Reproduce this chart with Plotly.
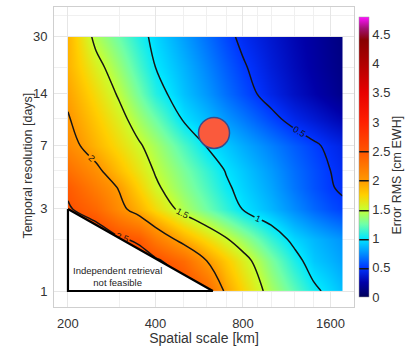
import plotly.graph_objects as go

# ---- data ----
spatial_km = [200, 250, 300, 350, 400, 500, 600, 700, 800, 1000, 1200, 1400, 1600, 1760]
temporal_days = [1, 1.5, 2, 3, 4, 5, 7, 10, 14, 20, 30]
# error RMS [cm EWH], rows follow temporal_days, columns follow spatial_km
error_rms = [
    [3.30, 3.20, 3.10, 3.00, 2.90, 2.60, 2.35, 1.95, 1.73, 1.41, 1.21, 1.04, 0.95, 0.88],  # 1
    [3.10, 2.95, 2.80, 2.65, 2.55, 2.32, 2.00, 1.78, 1.59, 1.29, 1.07, 0.91, 0.85, 0.80],  # 1.5
    [2.90, 2.70, 2.54, 2.45, 2.20, 1.90, 1.69, 1.52, 1.37, 1.12, 0.95, 0.86, 0.80, 0.76],  # 2
    [2.53, 2.35, 2.08, 1.88, 1.69, 1.42, 1.25, 1.11, 0.99, 0.86, 0.74, 0.64, 0.57, 0.53],  # 3
    [2.45, 2.19, 1.98, 1.74, 1.54, 1.33, 1.17, 1.03, 0.94, 0.81, 0.68, 0.58, 0.51, 0.48],  # 4
    [2.30, 2.06, 1.83, 1.64, 1.48, 1.28, 1.12, 0.99, 0.91, 0.78, 0.66, 0.57, 0.50, 0.46],  # 5
    [2.10, 1.87, 1.69, 1.53, 1.40, 1.17, 0.99, 0.91, 0.83, 0.71, 0.61, 0.53, 0.46, 0.42],  # 7
    [2.02, 1.78, 1.58, 1.39, 1.24, 0.98, 0.87, 0.77, 0.69, 0.55, 0.44, 0.37, 0.31, 0.27],  # 10
    [1.95, 1.69, 1.47, 1.26, 1.08, 0.89, 0.77, 0.66, 0.57, 0.43, 0.33, 0.26, 0.20, 0.15],  # 14
    [1.88, 1.58, 1.36, 1.16, 1.00, 0.85, 0.72, 0.61, 0.52, 0.39, 0.30, 0.23, 0.17, 0.13],  # 20
    [1.88, 1.43, 1.24, 1.07, 0.95, 0.79, 0.66, 0.55, 0.46, 0.36, 0.28, 0.22, 0.16, 0.12],  # 30
]
infeasible_x = [200, 200, 630, 200]
infeasible_y = [3, 1, 1, 3]
mission_x = [636]
mission_y = [8.3]
x_ticks = [200, 400, 800, 1600]
y_ticks = [1, 3, 7, 14, 30]
cbar_ticks = [0, 0.5, 1, 1.5, 2, 2.5, 3, 3.5, 4, 4.5]

zmax = 4.8
stops = [
    (0.0, "#00005a"), (0.25, "#0000a8"), (0.5, "#0034ff"), (0.75, "#0090ff"),
    (1.0, "#00e8ff"), (1.25, "#70ffa8"), (1.5, "#c8ff30"), (1.75, "#ffd000"),
    (2.0, "#ff9800"), (2.5, "#ff5400"), (3.0, "#ff2000"), (3.5, "#e80000"),
    (4.0, "#b00000"), (4.4, "#880000"), (4.6, "#a01070"), (4.8, "#ff10ff"),
]
colorscale = [[v / zmax, c] for v, c in stops]

font = "Liberation Sans, Arial, sans-serif"
txt = "#333333"

fig = go.Figure()
fig.add_trace(go.Contour(
    x=spatial_km, y=temporal_days, z=error_rms,
    colorscale=colorscale, zmin=0, zmax=zmax,
    contours=dict(coloring="heatmap", start=0.5, end=2.5, size=0.5, showlabels=True,
                  labelfont=dict(size=9, color="#111111", family=font)),
    line=dict(color="#151515", width=1.5),
    colorbar=dict(
        x=1.017, xanchor="left", y=0.5, yanchor="middle", len=1.0,
        thickness=10, outlinewidth=0.5, outlinecolor="#999999",
        tickvals=cbar_ticks, ticks="", xpad=0,
        tickfont=dict(size=13, color=txt, family=font),
    ),
))
fig.add_trace(go.Scatter(
    x=infeasible_x, y=infeasible_y, mode="lines", fill="toself",
    fillcolor="white", line=dict(color="black", width=2.2),
    hoverinfo="skip", showlegend=False,
))
fig.add_trace(go.Scatter(
    x=mission_x, y=mission_y, mode="markers",
    marker=dict(size=31, color="#fa5a3c", line=dict(color="#3c4a88", width=1.5)),
    showlegend=False,
))
fig.add_annotation(x=2.472, y=0.082, xref="x", yref="y",
                   text="Independent retrieval<br>not feasible", showarrow=False,
                   font=dict(size=9.5, color="#222222", family=font))
fig.add_annotation(x=-0.088, y=0.47, xref="paper", yref="paper", textangle=-90,
                   text="Temporal resolution [days]", showarrow=False,
                   xanchor="center", yanchor="middle",
                   font=dict(size=12.5, color=txt, family=font))
fig.add_annotation(x=1.142, y=0.44, xref="paper", yref="paper", textangle=-90,
                   text="Error RMS [cm EWH]", showarrow=False,
                   xanchor="center", yanchor="middle",
                   font=dict(size=12.5, color=txt, family=font))

minor_x = [300, 500, 600, 700, 900, 1000, 1200, 1400]
minor_y = [2, 4, 5, 6, 10, 20, 40]
fig.update_xaxes(
    type="log", range=[2.253, 3.285], tickvals=x_ticks, ticktext=[str(v) for v in x_ticks],
    showgrid=True, gridcolor="#e6e6e6", gridwidth=1,
    minor=dict(tickvals=minor_x, showgrid=True, gridcolor="#f0f0f0"),
    showline=True, mirror=True, linecolor="#cfcfcf", linewidth=1,
    ticks="", ticklabelstandoff=4, zeroline=False,
    tickfont=dict(size=13, color=txt, family=font),
    title=dict(text="Spatial scale [km]", standoff=2, font=dict(size=14, color=txt, family=font)),
)
fig.update_yaxes(
    type="log", range=[-0.093, 1.651], tickvals=y_ticks, ticktext=[str(v) for v in y_ticks],
    showgrid=True, gridcolor="#e6e6e6", gridwidth=1,
    minor=dict(tickvals=minor_y, showgrid=True, gridcolor="#f0f0f0"),
    showline=True, mirror=True, linecolor="#cfcfcf", linewidth=1,
    ticks="", ticklabelstandoff=3, zeroline=False,
    tickfont=dict(size=13, color=txt, family=font),
)
fig.update_layout(
    width=408, height=346,
    margin=dict(l=54, r=54, t=7, b=39, autoexpand=False),
    paper_bgcolor="white", plot_bgcolor="white",
    showlegend=False,
)
fig.write_html("out.html")
